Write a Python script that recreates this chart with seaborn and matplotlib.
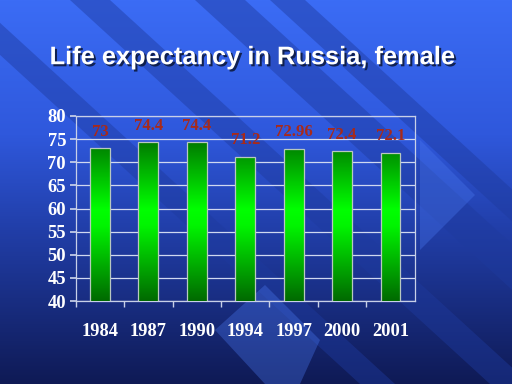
import numpy as np
import pandas as pd
import matplotlib
matplotlib.use("Agg")
from matplotlib import pyplot as plt
from matplotlib import patheffects as pe
from matplotlib.colors import LinearSegmentedColormap
from matplotlib.patches import Polygon
import seaborn as sns

years = ["1984", "1987", "1990", "1994", "1997", "2000", "2001"]
life_exp = [73, 74.4, 74.4, 71.2, 72.96, 72.4, 72.1]
value_labels = ["73", "74.4", "74.4", "71.2", "72.96", "72.4", "72.1"]
y_ticks = [40, 45, 50, 55, 60, 65, 70, 75, 80]

df = pd.DataFrame({"year": years, "value": life_exp})

sns.set_theme(style="white")
plt.rcParams["font.family"] = ["Liberation Serif", "DejaVu Serif"]

fig = plt.figure(figsize=(5.12, 3.84), dpi=100)

# slide background: blue gradient with diagonal stripes
bg = fig.add_axes([0, 0, 1, 1], zorder=-10)
bg_cmap = LinearSegmentedColormap.from_list(
    "bg", [(0, "#3b6cf5"), (0.35, "#2f58dc"), (0.6, "#213ea8"), (1, "#0f1a55")])
grad = np.linspace(0, 1, 256).reshape(-1, 1)
bg.imshow(grad, cmap=bg_cmap, aspect="auto", extent=[0, 512, 384, 0])
stripes = [(-60, 35), (70, 40), (195, 50), (270, 35)]
for x0, w in stripes:
    bg.add_patch(Polygon([(x0, 0), (x0 + w, 0), (x0 + w + 420, 384), (x0 + 420, 384)],
                         closed=True, color="#1e3a9e", alpha=0.45, lw=0))
bg.add_patch(Polygon([(265, 384), (215, 330), (265, 285), (320, 340), (300, 384)],
                     closed=True, color="#4a78f0", alpha=0.35, lw=0))
bg.add_patch(Polygon([(420, 140), (475, 195), (420, 250)], closed=True,
                     color="#4a78f0", alpha=0.35, lw=0))
bg.set_xlim(0, 512)
bg.set_ylim(384, 0)
bg.axis("off")

fig.text(0.492, 0.851, "Life expectancy in Russia, female", ha="center", va="center",
         fontsize=18.3, fontweight="bold", color="white", family="Liberation Sans",
         path_effects=[pe.SimplePatchShadow(offset=(1.5, -1.5), shadow_rgbFace="#0d1a40", alpha=0.9),
                       pe.Normal()])

ax = fig.add_axes([0.148, 0.216, 0.662, 0.482])
ax.patch.set_alpha(0)
sns.barplot(data=df, x="year", y="value", color="#00aa00", width=0.41, ax=ax, zorder=3)

bar_cmap = LinearSegmentedColormap.from_list(
    "bar", [(0, "#006a00"), (0.45, "#00f500"), (0.55, "#00ff00"), (1, "#006c00")])
bar_grad = np.linspace(0, 1, 128).reshape(-1, 1)
for patch in ax.patches:
    x, y = patch.get_x(), patch.get_y()
    w, h = patch.get_width(), patch.get_height()
    patch.set_facecolor("none")
    patch.set_edgecolor("#b8c8c0")
    patch.set_linewidth(0.9)
    patch.set_zorder(4)
    im = ax.imshow(bar_grad, cmap=bar_cmap, aspect="auto",
                   extent=[x, x + w, 40, 40 + 36], zorder=3, origin="lower")
    im.set_clip_path(patch)
ax.set_aspect("auto")
ax.set_xlim(-0.5, len(years) - 0.5)
ax.set_ylim(40, 80)

for i, lab in enumerate(value_labels):
    ax.annotate(lab, (i, life_exp[i]), xytext=(0, 6), textcoords="offset points",
                ha="center", va="bottom", color="#a82a1a", fontsize=12,
                fontweight="bold", zorder=5)

ax.set_yticks(y_ticks)
ax.yaxis.grid(True, color="#d0d8f0", lw=0.9, zorder=1)
ax.set_axisbelow(True)
for s in ax.spines.values():
    s.set_color("#c8d0e8")
    s.set_linewidth(0.9)
ax.set_xticks(np.arange(len(years)))
ax.set_xticklabels(years)
ax.set_xticks(np.arange(len(years)) - 0.5, minor=True)
ax.tick_params(axis="x", which="major", length=0, pad=16, labelsize=13.3, labelcolor="white")
ax.tick_params(axis="x", which="minor", length=4, direction="out", color="#c8d0e8", bottom=True)
ax.tick_params(axis="y", length=4, direction="out", color="#c8d0e8", left=True,
               labelsize=13.3, labelcolor="white", pad=3)
for t in ax.get_xticklabels() + ax.get_yticklabels():
    t.set_fontweight("bold")
ax.set_xlabel("")
ax.set_ylabel("")

fig.savefig("out.png", dpi=100)
